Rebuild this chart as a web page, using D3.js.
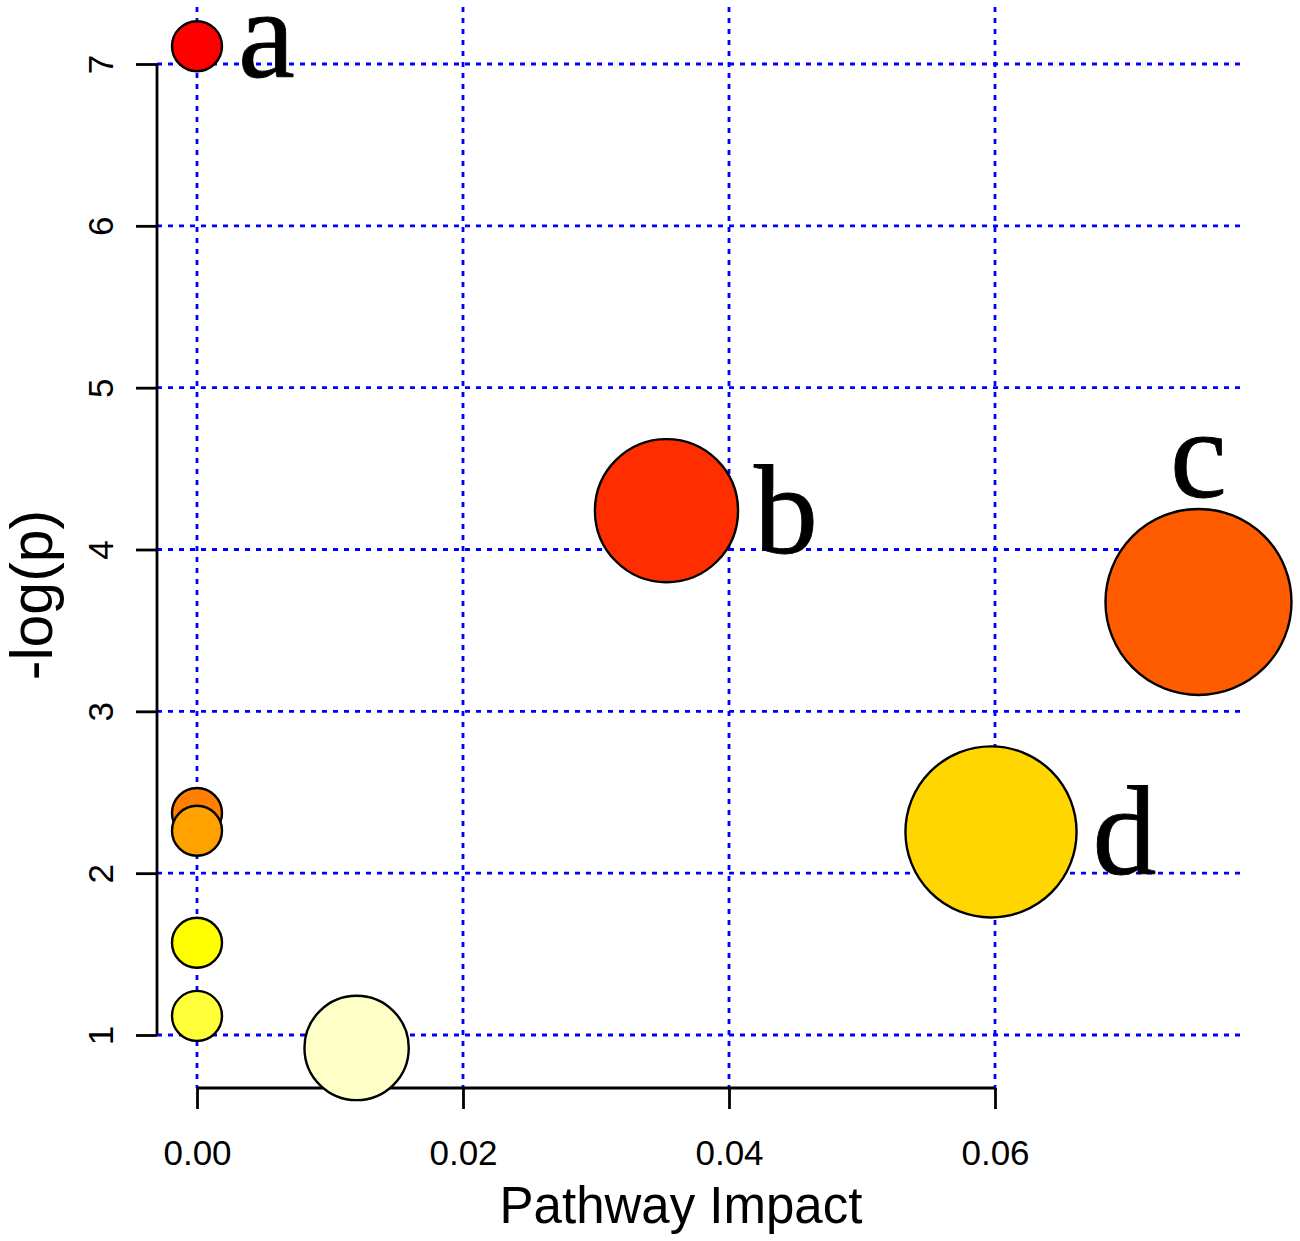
<!DOCTYPE html>
<html>
<head>
<meta charset="utf-8">
<script src="https://cdn.jsdelivr.net/npm/d3@7"></script>
<style>
  body { margin: 0; background: #fff; }
  svg { display: block; }
</style>
</head>
<body>
<div id="chart"></div>
<script>
// pathway impact vs -log(p)
const impact = [0, 0.0353, 0.0753, 0.0597, 0, 0, 0, 0, 0.0120]
const logP = [7.11, 4.24, 3.676, 2.255, 2.372, 2.262, 1.57, 1.118, 0.92]
const fillColors = ['#ff0000', '#ff2e00', '#ff5c00', '#ffd600', '#ff7f00', '#ffa200', '#ffff00', '#ffff3a', '#ffffc8']
const pointLabels = ['a', 'b', 'c', 'd', '', '', '', '', '']
const xTicks = [0, 0.02, 0.04, 0.06]
const yTicks = [1, 2, 3, 4, 5, 6, 7]

const width = 1300
const height = 1241
const plot = { left: 157, right: 1240, top: 7, bottom: 1088 }
const sans = "'Liberation Sans', Arial, sans-serif"
const serif = "'Liberation Serif', 'Times New Roman', serif"

const x = d3.scaleLinear().domain([0, 0.06]).range([197, 995])
const y = d3.scaleLinear().domain([1, 7]).range([1035, 64])
const r = d3.scaleSqrt().domain([0, d3.max(impact)]).range([25, 93])

const points = impact.map((v, i) => ({ impact: v, logP: logP[i], fill: fillColors[i], label: pointLabels[i] }))

const svg = d3.select('#chart').append('svg')
  .attr('width', width)
  .attr('height', height)

svg.append('rect').attr('width', width).attr('height', height).attr('fill', '#fff')

// grid
const grid = svg.append('g')
  .attr('stroke', '#0000ff')
  .attr('stroke-width', 2.8)
  .attr('stroke-dasharray', '5 6')

grid.selectAll('.vgrid')
  .data(xTicks).enter()
  .append('line')
  .attr('x1', d => x(d)).attr('x2', d => x(d))
  .attr('y1', plot.top).attr('y2', plot.bottom)

grid.selectAll('.hgrid')
  .data(yTicks).enter()
  .append('line')
  .attr('x1', plot.left).attr('x2', plot.right)
  .attr('y1', d => y(d)).attr('y2', d => y(d))

// axes
const xAxis = g => g
  .attr('transform', `translate(0, ${plot.bottom})`)
  .call(d3.axisBottom(x).tickValues(xTicks).tickSize(21).tickFormat(d3.format('.2f')))
  .call(g => g.selectAll('path, line').attr('stroke', '#000').attr('stroke-width', 2.8))
  .call(g => g.select('.domain').attr('d', `M${x(0)},0H${x(0.06)}`))
  .call(g => g.selectAll('text')
    .attr('y', 77).attr('dy', 0)
    .attr('fill', '#000')
    .attr('font-size', 35)
    .attr('font-family', sans))

const yAxis = g => g
  .attr('transform', `translate(${plot.left}, 0)`)
  .call(d3.axisLeft(y).tickValues(yTicks).tickSize(21).tickFormat(d3.format('d')))
  .call(g => g.selectAll('path, line').attr('stroke', '#000').attr('stroke-width', 2.8))
  .call(g => g.select('.domain').attr('d', `M0,${y(1)}V${y(7)}`))
  .call(g => g.selectAll('text')
    .attr('transform', 'rotate(-90)')
    .attr('x', 0).attr('y', -44).attr('dy', 0)
    .attr('text-anchor', 'middle')
    .attr('fill', '#000')
    .attr('font-size', 35)
    .attr('font-family', sans))

svg.append('g').call(xAxis)
svg.append('g').call(yAxis)

svg.append('text')
  .attr('x', 681)
  .attr('y', 1223)
  .attr('text-anchor', 'middle')
  .attr('font-size', 51)
  .attr('font-family', sans)
  .text('Pathway Impact')

svg.append('text')
  .attr('transform', 'translate(52, 595) rotate(-90)')
  .attr('text-anchor', 'middle')
  .attr('font-size', 59)
  .attr('font-family', sans)
  .text('-log(p)')

// circles
svg.append('g')
  .selectAll('circle')
  .data(points).enter()
  .append('circle')
  .attr('cx', d => x(d.impact))
  .attr('cy', d => y(d.logP))
  .attr('r', d => r(d.impact))
  .attr('fill', d => d.fill)
  .attr('stroke', '#000')
  .attr('stroke-width', 2.4)

// letter labels: right of the circle, or above it when there is no room
const labelSize = 128
svg.append('g')
  .selectAll('text')
  .data(points.filter(d => d.label)).enter()
  .append('text')
  .attr('font-family', serif)
  .attr('font-size', labelSize)
  .attr('fill', '#000')
  .attr('stroke', '#000')
  .attr('stroke-width', 0.8)
  .each(function (d) {
    const cx = x(d.impact)
    const cy = y(d.logP)
    const rad = r(d.impact)
    const t = d3.select(this)
    if (cx + rad + 12 + 60 > width) {
      t.attr('x', cx).attr('y', cy - rad - 12).attr('text-anchor', 'middle')
    } else {
      t.attr('x', cx + rad + 16).attr('y', cy + Math.min(42, rad + 6)).attr('text-anchor', 'start')
    }
  })
  .text(d => d.label)
</script>
</body>
</html>
